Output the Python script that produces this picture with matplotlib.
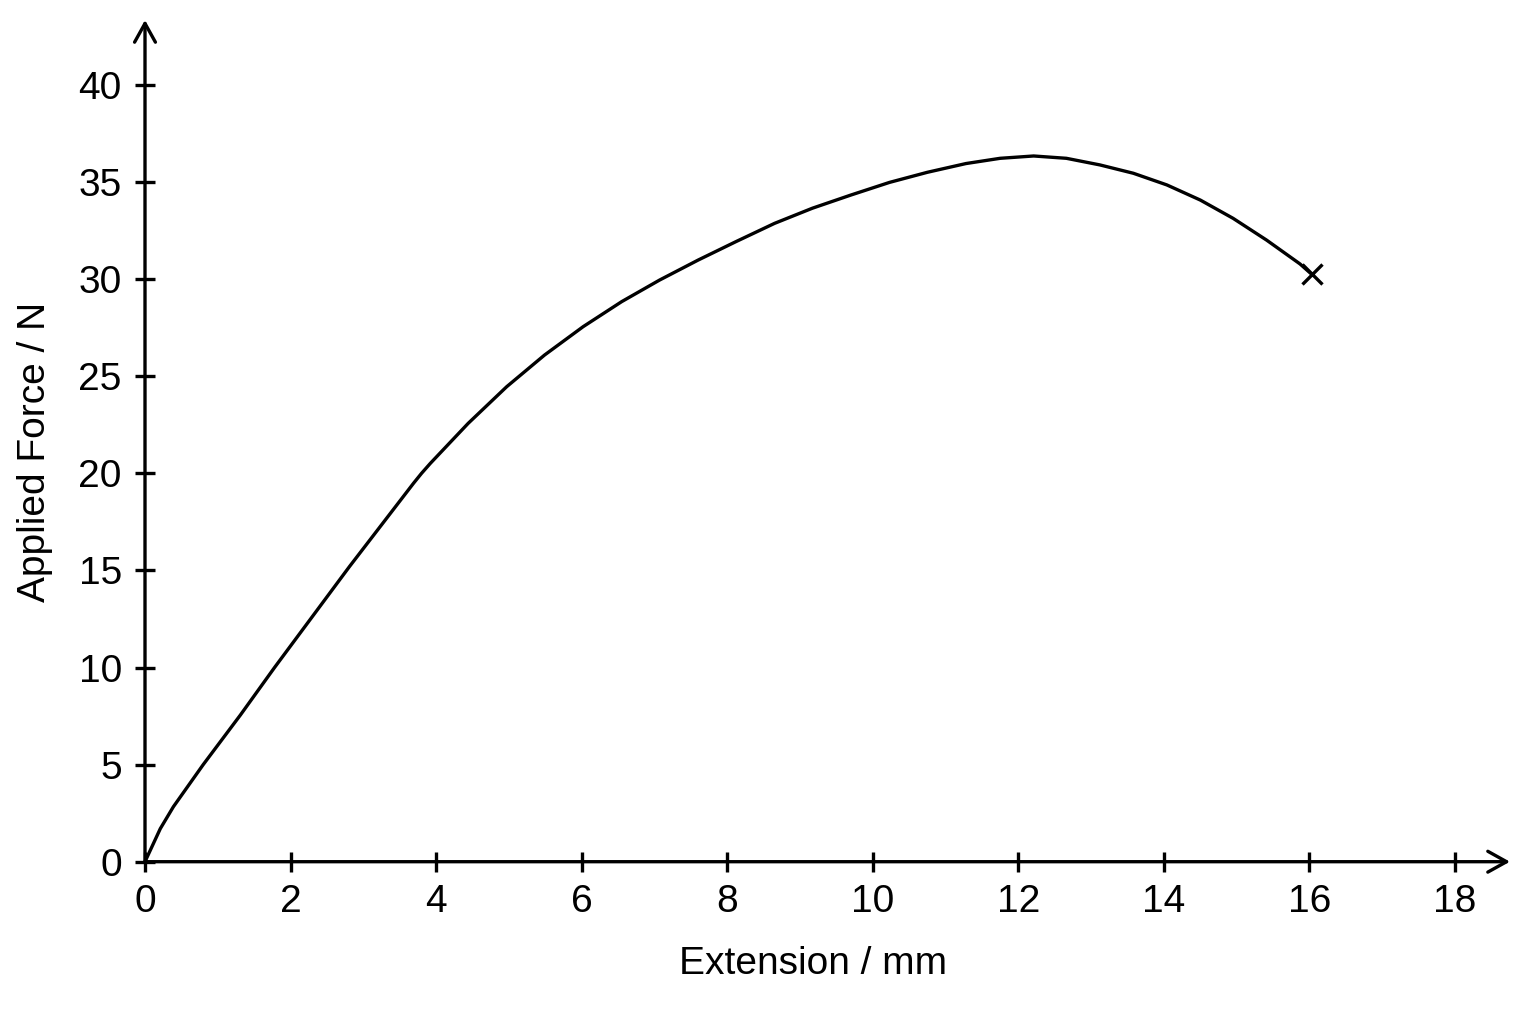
import matplotlib
matplotlib.use("Agg")
import matplotlib.pyplot as plt

plt.rcParams['font.family'] = ['Liberation Sans', 'DejaVu Sans']

# Data
extension = [0, 0.21, 0.39, 0.80, 1.31, 1.78, 2.81, 3.69, 3.80, 3.92, 4.44, 4.97,
             5.49, 6.02, 6.55, 7.07, 7.60, 8.12, 8.65, 9.17, 9.70, 10.23, 10.75,
             11.28, 11.75, 12.21, 12.66, 13.12, 13.58, 14.04, 14.50, 14.95, 15.41,
             15.87, 16.03]
force = [0, 1.7, 2.83, 5.0, 7.55, 10.0, 15.2, 19.49, 20.0, 20.51, 22.57, 24.46,
         26.09, 27.55, 28.84, 29.95, 30.98, 31.93, 32.87, 33.65, 34.33, 34.98, 35.5,
         35.95, 36.22, 36.34, 36.22, 35.88, 35.45, 34.85, 34.07, 33.13, 32.01,
         30.78, 30.25]
x_ticks = [0, 2, 4, 6, 8, 10, 12, 14, 16, 18]
y_ticks = [0, 5, 10, 15, 20, 25, 30, 35, 40]
x_label = "Extension / mm"
y_label = "Applied Force / N"

W, H = 1536, 1024
fig = plt.figure(figsize=(W / 100, H / 100), dpi=100)
left, right, bottom_px, top_px = 145, 1510, 861.7, 20
ax = fig.add_axes([left / W, 1 - bottom_px / H, (right - left) / W, (bottom_px - top_px) / H])
xmax = (right - left) / 72.78
ymax = (bottom_px - top_px) / 19.42
ax.set_xlim(0, xmax)
ax.set_ylim(0, ymax)
for s in ax.spines.values():
    s.set_visible(False)

lw = 2.4
arrow = dict(arrowstyle='->,head_length=0.45,head_width=0.25', mutation_scale=30,
             lw=lw, color='black', shrinkA=0, shrinkB=0)
ax.annotate('', xy=(xmax, 0), xytext=(0, 0), arrowprops=arrow, annotation_clip=False)
ax.annotate('', xy=(0, ymax), xytext=(0, 0), arrowprops=arrow, annotation_clip=False)

ax.plot(extension, force, color='black', lw=lw, clip_on=False,
        solid_capstyle='round', solid_joinstyle='round')
ax.plot([extension[-1]], [force[-1]], marker='x', color='black', markersize=14,
        mew=lw, clip_on=False)

ax.set_xticks(x_ticks)
ax.set_yticks(y_ticks)
ax.tick_params(direction='inout', length=14.4, width=lw, labelsize=28, colors='black')
ax.tick_params(axis='x', pad=9)
ax.tick_params(axis='y', pad=9.5)

ax.set_xlabel(x_label, fontsize=28)
ax.set_ylabel(y_label, fontsize=28)
ax.xaxis.label.set_verticalalignment('center')
ax.yaxis.label.set_verticalalignment('center')
ax.xaxis.set_label_coords((813 - left) / (right - left), (bottom_px - 964) / (bottom_px - top_px))
ax.yaxis.set_label_coords((35 - left) / (right - left), (bottom_px - 452) / (bottom_px - top_px))

fig.savefig("out.png", dpi=100, facecolor='white')
